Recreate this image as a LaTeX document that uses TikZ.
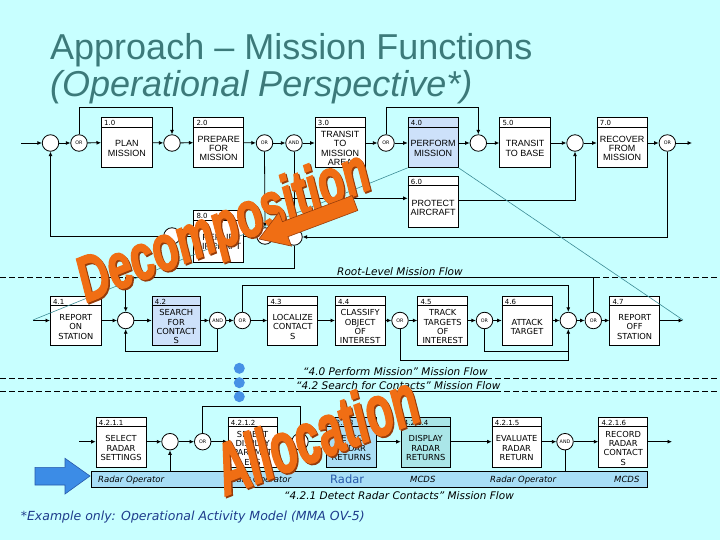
\documentclass[tikz,border=0pt]{standalone}
\usepackage{fontspec}
\setmainfont{Liberation Sans}
\newfontfamily\dv{DejaVu Sans}
\newfontfamily\orfont[FakeBold=2.5]{Liberation Sans}
\usetikzlibrary{arrows.meta,calc}
\definecolor{bg}{RGB}{200,255,255}
\definecolor{ttl}{RGB}{60,122,122}
\definecolor{hl}{RGB}{205,225,250}
\definecolor{hlc}{RGB}{170,222,245}
\definecolor{hld}{RGB}{170,230,232}
\definecolor{lanec}{RGB}{168,222,246}
\definecolor{tealln}{RGB}{60,140,150}
\definecolor{dotblue}{RGB}{70,145,230}
\definecolor{orng}{RGB}{240,110,20}
\definecolor{orngd}{RGB}{150,60,10}
\definecolor{foot}{RGB}{30,60,140}
\definecolor{bluearr}{RGB}{60,140,230}
\definecolor{bluearrd}{RGB}{40,90,170}
\definecolor{radarblue}{RGB}{40,90,170}
% name, x-left, y-top, width, height, fill, number, text, text style
\newcommand{\fb}[9]{%
  \node[fnbox, fill=#6, minimum width=#4pt, minimum height=#5pt, anchor=north west] (#1) at (#2,#3) {};
  \draw[line width=0.7pt] ([yshift=-10pt]#1.north west) -- ([yshift=-10pt]#1.north east);
  \node[numlab, anchor=base west] (#1-n) at ([xshift=3pt,yshift=-8.6pt]#1.north west) {#7};
  \node[#9] (#1-t) at ([yshift=-6pt]#1.center) {#8};
}
\newcommand{\decfont}{\orfont\bfseries\itshape\fontsize{64}{64}\selectfont}
\newcommand{\allfont}{\orfont\bfseries\itshape\fontsize{72}{72}\selectfont}
\begin{document}
\begin{tikzpicture}[x=1pt,y=-1pt,
  fnbox/.style={draw, line width=0.8pt, inner sep=0pt},
  jn/.style={circle, draw, fill=white, line width=0.8pt, minimum size=16.5pt, inner sep=0pt, font=\dv\fontsize{4.8}{5}\selectfont},
  numlab/.style={inner sep=0pt, font=\dv\fontsize{7}{7}\selectfont},
  rA/.style={align=center, inner sep=0pt, font=\fontsize{9}{9.3}\selectfont},
  rB/.style={align=center, inner sep=0pt, font=\dv\fontsize{8.3}{9.3}\selectfont},
  ar/.style={line width=0.8pt, -{Latex[length=4.5pt,width=4pt]}},
  ln/.style={line width=0.8pt},
  flowlab/.style={inner sep=0pt, font=\dv\itshape\fontsize{10.5}{10.5}\selectfont},
  lanelab/.style={inner sep=0pt, font=\dv\itshape\fontsize{8.5}{8.5}\selectfont},
  dsh/.style={line width=0.7pt, dash pattern=on 6pt off 3pt},
  bigword/.style={inner sep=0pt, anchor=base},
]
\useasboundingbox (0,0) rectangle (720,540);
\fill[bg] (0,0) rectangle (720,540);

% helper levels
\coordinate (y107) at (0,107);
\coordinate (y198) at (0,198.3);
\coordinate (y200) at (0,200);
\coordinate (y268) at (0,268);
\coordinate (y277) at (0,277);
\coordinate (y285) at (0,285);
\coordinate (y351) at (0,351.5);
\coordinate (y361) at (0,360.7);
\coordinate (y407) at (0,406.7);
\coordinate (u1) at (0,378.3);
\coordinate (u2) at (0,391.7);

% title
\node[anchor=base west, inner sep=0pt, text=ttl, font=\fontsize{36}{36}\selectfont] (t1) at (50,60) {Approach – Mission Functions};
\node[anchor=base west, inner sep=0pt, text=ttl, font=\itshape\fontsize{36}{36}\selectfont] (t2) at (50,97) {(Operational Perspective*)};

% dashed separators
\draw[dsh] (0,277) -- (720,277);
\draw[dsh] (0,378.3) -- (720,378.3);
\draw[dsh] (0,391.7) -- (720,391.7);

% teal decomposition lines
\coordinate (tl1) at (33,320);
\coordinate (tr1) at (683,320);

% ---------------- Row 1 ----------------
\coordinate (s1) at (21,143);
\node[jn] (J1) at (50.5,143) {};
\node[jn] (OR1) at (79,143) {OR};
\fb{B1}{101}{117}{51}{50}{white}{1.0}{PLAN\\MISSION}{rA}
\node[jn] (J2) at (172,143) {};
\fb{B2}{193.3}{117}{50}{50}{white}{2.0}{PREPARE\\FOR\\MISSION}{rA}
\node[jn] (OR2) at (264.5,143) {OR};
\node[jn] (AND1) at (294,143) {AND};
\fb{B3}{314.7}{117}{50}{50}{white}{3.0}{TRANSIT\\TO\\MISSION\\AREA}{rA}
\node[jn] (OR3) at (386,143) {OR};
\fb{B4}{407.7}{117}{50}{50}{hl}{4.0}{PERFORM\\MISSION}{rA}
\node[jn] (J4) at (478.3,143) {};
\fb{B5}{499.3}{117}{50.7}{50}{white}{5.0}{TRANSIT\\TO BASE}{rA}
\node[jn] (J7) at (575,143) {};
\fb{B7}{596.7}{117}{50}{50}{white}{7.0}{RECOVER\\FROM\\MISSION}{rA}
\node[jn] (OR7) at (667.3,143) {OR};
\coordinate (e1) at (692,143);
\fb{B6}{407.7}{175.7}{50}{51}{white}{6.0}{PROTECT\\AIRCRAFT}{rA}
\fb{B8}{193.3}{210}{50}{51.7}{white}{8.0}{REPAIR\\AIRCRAFT}{rA}
\node[jn] (C8L) at (172,236) {};
\node[jn] (C8R) at (265,236) {};
\node[jn] (C8A) at (294,237) {};

\draw[ar] (s1) -- (J1);
\draw[ar] (J1) -- (OR1);
\draw[ar] (OR1) -- (B1);
\draw[ar] (B1) -- (J2);
\draw[ar] (J2) -- (B2);
\draw[ar] (B2) -- (OR2);
\draw[ar] (OR2) -- (AND1);
\draw[ar] (AND1) -- (B3.west |- AND1);
\draw[ar] (B3.east |- OR3) -- (OR3);
\draw[ar] (OR3) -- (B4.west |- OR3);
\draw[ar] (B4.east |- J4) -- (J4);
\draw[ar] (J4) -- (B5.west |- J4);
\draw[ar] (B5.east |- J7) -- (J7);
\draw[ar] (J7) -- (B7.west |- J7);
\draw[ar] (B7.east |- OR7) -- (OR7);
\draw[ar] (OR7) -- (e1);
\draw[ar] (OR1.north) -- (OR1.north |- y107) -- (J2.north |- y107) -- (J2.north);
\draw[ar] (OR3.north) -- (OR3.north |- y107) -- (J4.north |- y107) -- (J4.north);
\draw[ar] (OR2.south) -- (C8R.north);
\draw[ar] (OR2.south |- y198) -- (B6.west |- y198);
\draw[ar] (B6.east |- y200) -- (J7.south |- y200) -- (J7.south);
\draw[ln] (B8.east |- C8R) -- (C8R);
\draw[ln] (C8L) -- (B8.west |- C8L);
\draw[ar] (C8L.west) -- (C8L.west -| J1) -- (J1.south);
\draw[ar] (AND1.south) -- (C8A.north);
\draw[ar] (OR7.south) -- (OR7.south |- C8A) -- (C8A.east);
\draw[ln] (C8A.south) -- (C8A.south |- y268) -- (C8L.south |- y268) -- (C8L.south);

\node[flowlab, anchor=base west] (lroot) at (337,275) {Root-Level Mission Flow};

% ---------------- Row 2 ----------------
\coordinate (s2) at (33,320.5);
\fb{B41}{50}{295.7}{50.7}{49.3}{white}{4.1}{REPORT\\ON\\STATION}{rB}
\node[jn] (J42) at (125.7,320.5) {};
\fb{B42}{151.7}{295.7}{48.3}{49.3}{hl}{4.2}{SEARCH\\FOR\\CONTACT\\S}{rB}
\node[jn] (AND2) at (217.7,320.5) {AND};
\node[jn] (OR4) at (242.3,320.5) {OR};
\fb{B43}{267.3}{295.7}{50}{49.3}{white}{4.3}{LOCALIZE\\CONTACT\\S}{rB}
\fb{B44}{335}{295.7}{49.5}{49.3}{white}{4.4}{CLASSIFY\\OBJECT\\OF\\INTEREST}{rB}
\node[jn] (OR5) at (400,320.5) {OR};
\fb{B45}{417.3}{295.7}{50}{49.3}{white}{4.5}{TRACK\\TARGETS\\OF\\INTEREST}{rB}
\node[jn] (OR6) at (484.5,320.5) {OR};
\fb{B46}{501.7}{295.7}{50}{49.3}{white}{4.6}{ATTACK\\TARGET}{rB}
\node[jn] (J46) at (568.3,320.5) {};
\node[jn] (OR8r) at (593.3,320.5) {OR};
\fb{B47}{609.3}{295.7}{50}{49.3}{white}{4.7}{REPORT\\OFF\\STATION}{rB}
\coordinate (e2) at (683,320.5);

\draw[ar] (s2) -- (B41.west |- s2);
\draw[ar] (B41.east |- J42) -- (J42);
\draw[ar] (J42) -- (B42.west |- J42);
\draw[ar] (B42.east |- AND2) -- (AND2);
\draw[ar] (AND2) -- (OR4);
\draw[ar] (OR4) -- (B43.west |- OR4);
\draw[ar] (B43.east |- OR4) -- (B44.west |- OR4);
\draw[ar] (B44.east |- OR5) -- (OR5);
\draw[ar] (OR5) -- (B45.west |- OR5);
\draw[ar] (B45.east |- OR6) -- (OR6);
\draw[ar] (OR6) -- (B46.west |- OR6);
\draw[ar] (B46.east |- J46) -- (J46);
\draw[ar] (J46) -- (OR8r);
\draw[ar] (OR8r) -- (B47.west |- OR8r);
\draw[ar] (B47.east |- e2) -- (e2);
\draw[ar] (AND2.south) -- (AND2.south |- y351) -- (J42.south |- y351) -- (J42.south);
\draw[ar] (OR4.north) -- (OR4.north |- y285) -- (J46.north |- y285) -- (J46.north);
\draw[ar] (OR8r.north) -- (OR8r.north |- y277) -- (J42.north |- y277) -- (J42.north);
\draw[ar] (OR5.south) -- (OR5.south |- y361) -- (J46.south |- y361) -- (J46.south);
\draw[ln] (OR6.south) -- (OR6.south |- y351) -- (J46.south |- y351);

% teal lines
\draw[tealln, line width=0.6pt] (B4.south west) -- (tl1);
\draw[tealln, line width=0.6pt] (B4.south east) -- (tr1);

% dots and flow labels
\node[circle, fill=dotblue, minimum size=11pt, inner sep=0pt] (d1) at (239.3,368.3) {};
\node[circle, fill=dotblue, minimum size=11pt, inner sep=0pt] (d2) at (239.3,382.7) {};
\node[circle, fill=dotblue, minimum size=11pt, inner sep=0pt] (d3) at (239.3,396.7) {};
\node[flowlab, anchor=base west] (l40) at (303,375.5) {“4.0 Perform Mission” Mission Flow};
\draw[line width=0.6pt] (l40.west |- u1) -- (l40.east |- u1);
\node[flowlab, anchor=base west] (l42) at (296,389) {“4.2 Search for Contacts” Mission Flow};
\draw[line width=0.6pt] (l42.west |- u2) -- (l42.east |- u2);

% ---------------- Row 3 ----------------
\node[draw, line width=0.8pt, fill=lanec, anchor=north west, minimum width=556.6pt, minimum height=15.7pt, inner sep=0pt] (lane) at (90.7,471) {};
\coordinate (s3) at (79.3,441.7);
\fb{B11}{95.7}{416.7}{50}{50}{white}{4.2.1.1}{SELECT\\RADAR\\SETTINGS}{rB}
\node[jn] (J31) at (170,441.7) {};
\node[jn] (OR9) at (202.7,441.7) {OR};
\fb{B12}{227.7}{416.7}{49}{50}{white}{4.2.1.2}{SELECT\\DISPLAY\\PARAMET\\ERS}{rB}
\node[jn] (J33) at (300,441.7) {};
\fb{B13}{326}{416.7}{50}{50}{hlc}{4.2.1.3}{DETECT\\RADAR\\RETURNS}{rB}
\fb{B14}{400.7}{416.7}{49.3}{50}{hld}{4.2.1.4}{DISPLAY\\RADAR\\RETURNS}{rB}
\fb{B15}{491.7}{416.7}{49}{50}{white}{4.2.1.5}{EVALUATE\\RADAR\\RETURN}{rB}
\node[jn] (AND3) at (565,441.7) {AND};
\fb{B16}{598.3}{416.7}{49}{50}{white}{4.2.1.6}{RECORD\\RADAR\\CONTACT\\S}{rB}
\coordinate (e3) at (672,441.7);

\draw[ar] (s3) -- (B11.west |- s3);
\draw[ar] (B11.east |- J31) -- (J31);
\draw[ar] (J31) -- (OR9);
\draw[ar] (OR9) -- (B12.west |- OR9);
\draw[ar] (B12.east |- J33) -- (J33);
\draw[ar] (J33) -- (B13.west |- J33);
\draw[ar] (B13.east |- J33) -- (B14.west |- J33);
\draw[ar] (B14.east |- J33) -- (B15.west |- J33);
\draw[ar] (B15.east |- AND3) -- (AND3);
\draw[ar] (AND3) -- (B16.west |- AND3);
\draw[ar] (B16.east |- e3) -- (e3);
\draw[ar] (OR9.north) -- (OR9.north |- y407) -- (J33.north |- y407) -- (J33.north);
\draw[ar] (J31.south |- lane.north) -- (J31.south);
\draw[ln] (AND3.south) -- (AND3.south |- lane.north);

\node[lanelab, anchor=base west] (ln1) at (98,482) {Radar Operator};
\node[lanelab, anchor=base west] (ln2) at (225,482) {Radar Operator};
\node[inner sep=0pt, anchor=base west, text=radarblue, font=\dv\fontsize{11.5}{11.5}\selectfont] (ln3) at (330,483.5) {Radar};
\node[lanelab, anchor=base west] (ln4) at (410,482) {MCDS};
\node[lanelab, anchor=base west] (ln5) at (490,482) {Radar Operator};
\node[lanelab, anchor=base west] (ln6) at (614,482) {MCDS};

\node[flowlab, anchor=base west] (l421) at (284,499) {“4.2.1 Detect Radar Contacts” Mission Flow};
\node[anchor=base west, inner sep=0pt, text=foot, font=\dv\itshape\fontsize{12.5}{12.5}\selectfont] (fn) at (20.6,520) {*Example only: Operational Activity Model (MMA OV-5)};

% blue arrow
\filldraw[fill=bluearr, draw=bluearrd, line width=0.6pt] (35,467.3) -- (65,467.3) -- (65,458.3) -- (90,476) -- (65,494) -- (65,485) -- (35,485) -- cycle;

% orange overlays
\node[bigword, rotate=21.8, text=orngd, font=\decfont] (decs) at (232,246.5) {\scalebox{0.67}[1]{Decomposition}};
\node[bigword, rotate=21.8, text=orng, font=\decfont] (dec) at (230.5,245) {\scalebox{0.67}[1]{Decomposition}};
\filldraw[fill=orng, draw=orngd, line width=0.6pt] (352.2,195.5) -- (282.4,221.7) -- (278.9,212.3) -- (259,239) -- (291.5,246.1) -- (288,236.7) -- (357.8,210.5) -- cycle;
\node[bigword, rotate=21, text=orngd, font=\allfont] (alls) at (326.5,459) {\scalebox{0.61}[1]{Allocation}};
\node[bigword, rotate=21, text=orng, font=\allfont] (all) at (325,457.5) {\scalebox{0.61}[1]{Allocation}};
\end{tikzpicture}
\end{document}
